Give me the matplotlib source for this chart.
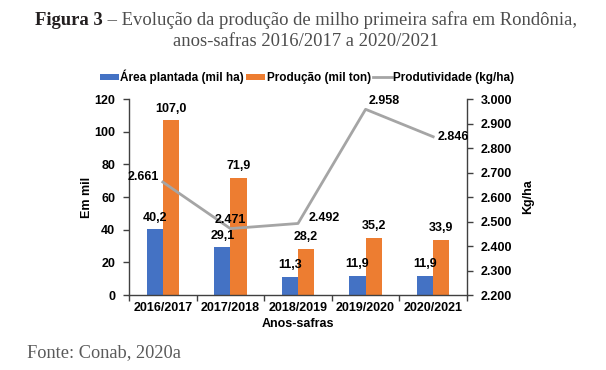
import matplotlib
matplotlib.use("Agg")
import matplotlib.pyplot as plt
import numpy as np
from matplotlib.offsetbox import TextArea, HPacker, AnchoredOffsetbox

categories = ["2016/2017", "2017/2018", "2018/2019", "2019/2020", "2020/2021"]
area = [40.2, 29.1, 11.3, 11.9, 11.9]
producao = [107.0, 71.9, 28.2, 35.2, 33.9]
produtividade = [2661, 2471, 2492, 2958, 2846]
left_ticks = [0, 20, 40, 60, 80, 100, 120]
right_ticks = [2200, 2300, 2400, 2500, 2600, 2700, 2800, 2900, 3000]

def br_dec(v):
    return f"{v:.1f}".replace(".", ",")

def br_thou(v):
    return f"{v/1000:.3f}"

BLUE = "#4472C4"
ORANGE = "#ED7D31"
GRAY = "#A5A5A5"
FS = 9

plt.rcParams['font.family'] = ['Liberation Sans', 'DejaVu Sans']

fig = plt.figure(figsize=(6.06, 3.70), dpi=100)
ax = fig.add_axes([0.2129, 0.2027, 0.7706 - 0.2129, 0.7324 - 0.2027])
ax2 = ax.twinx()

x = np.arange(len(categories))
w = 0.24
b1 = ax.bar(x - w/2, area, w, color=BLUE, label="Área plantada (mil ha)", zorder=2)
b2 = ax.bar(x + w/2, producao, w, color=ORANGE, label="Produção (mil ton)", zorder=2)
ax.set_xlim(-0.5, len(categories) - 0.5)
ax.set_ylim(0, 120)
ax.set_yticks(left_ticks)
ax.set_yticklabels([str(t) for t in left_ticks], fontsize=FS, fontweight='bold')
ax.set_xticks(x)
ax.set_xticklabels(categories, fontsize=FS, fontweight='bold')
ax.tick_params(axis='x', length=0, pad=5)
ax.set_xticks(np.arange(-0.5, len(categories)), minor=True)
ax.tick_params(axis='x', which='minor', length=4, width=1, color='#404040')
ax.tick_params(axis='y', length=4, width=1, color='#404040', pad=6)

for i, v in enumerate(area):
    ax.annotate(br_dec(v), (x[i] - w/2, v), xytext=(0, 4), textcoords='offset points',
                ha='center', va='bottom', fontsize=FS, fontweight='bold')
for i, v in enumerate(producao):
    ax.annotate(br_dec(v), (x[i] + w/2, v), xytext=(0, 4), textcoords='offset points',
                ha='center', va='bottom', fontsize=FS, fontweight='bold')

ln, = ax2.plot(x, produtividade, color=GRAY, lw=2, label="Produtividade (kg/ha)", zorder=3)
ax2.set_ylim(2200, 3000)
ax2.set_yticks(right_ticks)
ax2.set_yticklabels([br_thou(t) for t in right_ticks], fontsize=FS, fontweight='bold')
ax2.tick_params(axis='y', length=4, width=1, color='#404040', pad=6)

offsets = [(-3, 4, 'right', 'center'), (0, 6, 'center', 'center'), (8, 4, 'left', 'center'),
           (2, 6, 'left', 'center'), (3, 0, 'left', 'center')]
for i, v in enumerate(produtividade):
    dx, dy, ha, va = offsets[i]
    ax2.annotate(br_thou(v), (x[i], v), xytext=(dx, dy), textcoords='offset points',
                 ha=ha, va=va, fontsize=FS, fontweight='bold')

for a in (ax, ax2):
    a.spines['top'].set_visible(False)
    for s in ('left', 'right', 'bottom'):
        a.spines[s].set_color('#404040')
        a.spines[s].set_linewidth(1)
ax.spines['right'].set_visible(False)
ax2.spines['left'].set_visible(False)
ax2.spines['bottom'].set_visible(False)

ax.set_ylabel("Em mil", fontsize=FS, fontweight='bold', labelpad=1)
ax2.set_ylabel("Kg/ha", fontsize=FS, fontweight='bold', labelpad=7)
ax.set_xlabel("Anos-safras", fontsize=FS, fontweight='bold', labelpad=3)

handles = [b1, b2, ln]
fig.legend(handles, [h.get_label() for h in handles], loc='center', bbox_to_anchor=(0.507, 0.792),
           ncol=3, frameon=False, prop={'weight': 'bold', 'size': 8.5},
           handlelength=1.6, handleheight=0.5, handletextpad=0.1, columnspacing=0.2)

serif = ['Liberation Serif', 'DejaVu Serif']
TS = 13.4
p1 = TextArea("Figura 3", textprops=dict(fontsize=TS, family=serif, fontweight='bold', color='#231f20'))
p2 = TextArea(" \u2013 Evolução da produção de milho primeira safra em Rondônia,",
              textprops=dict(fontsize=TS, family=serif, color='#4d4d4d'))
hp = HPacker(children=[p1, p2], align='baseline', pad=0, sep=0)
ab = AnchoredOffsetbox(loc='center', child=hp, pad=0, frameon=False,
                       bbox_to_anchor=(0.505, 1 - 20/370), bbox_transform=fig.transFigure, borderpad=0)
fig.add_artist(ab)
fig.text(0.505, 1 - 42/370, "anos-safras 2016/2017 a 2020/2021", ha='center', va='center',
         fontsize=TS, family=serif, color='#4d4d4d')
fig.text(27/606, 1 - 353/370, "Fonte: Conab, 2020a", ha='left', va='center',
         fontsize=13.2, family=serif, color='#5a5a5a')

fig.savefig("out.png", dpi=100)
